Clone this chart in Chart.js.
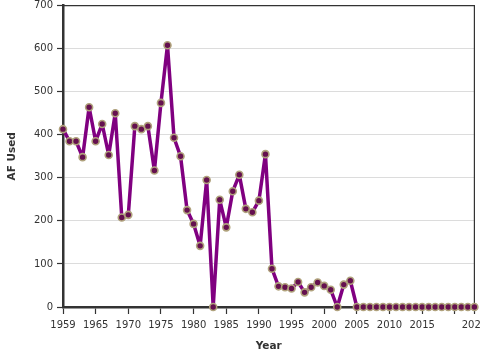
<!DOCTYPE html>
<html>
<head>
<meta charset="utf-8">
<script src="https://cdn.jsdelivr.net/npm/chart.js@4/dist/chart.umd.min.js"></script>
<style>
  html, body { margin: 0; padding: 0; background: #ffffff; }
  #wrap { width: 480px; height: 360px; position: relative; }
</style>
</head>
<body>
<div id="wrap"><canvas id="c" width="480" height="360"></canvas></div>
<script>
const years = [];
for (let y = 1960; y <= 2023; y++) years.push(y);
const afUsed = [
  413, 385, 385, 348, 464, 385, 425, 353, 450, 208,
  214, 420, 413, 420, 317, 474, 608, 393, 350, 225,
  193, 142, 295, 0, 249, 185, 269, 307, 228, 220,
  247, 355, 89, 48, 46, 43, 58, 34, 46, 57,
  49, 40, 0, 52, 61, 0, 0, 0, 0, 0,
  0, 0, 0, 0, 0, 0, 0, 0, 0, 0,
  0, 0, 0, 0
];
const tickYears = [1960, 1965, 1970, 1975, 1980, 1985, 1990, 1995, 2000, 2005, 2010, 2015, 2020, 2023];
const tickLabels = ['1959', '1965', '1970', '1975', '1980', '1985', '1990', '1995', '2000', '2005', '2010', '2015', '', '2022'];
const yTicks = [0, 100, 200, 300, 400, 500, 600, 700];

const frame = {
  id: 'frame',
  beforeDatasetsDraw(chart) {
    const a = chart.chartArea, ctx = chart.ctx;
    ctx.save();
    ctx.strokeStyle = '#333';
    ctx.lineWidth = 1.2;
    ctx.beginPath();
    ctx.moveTo(a.left, a.top);
    ctx.lineTo(a.right, a.top);
    ctx.lineTo(a.right, a.bottom);
    ctx.stroke();
    ctx.restore();
  }
};

new Chart(document.getElementById('c'), {
  type: 'line',
  data: {
    datasets: [{
      data: years.map((y, i) => ({ x: y, y: afUsed[i] })),
      borderColor: '#800080',
      borderWidth: 3.5,
      borderJoinStyle: 'round',
      borderCapStyle: 'round',
      tension: 0,
      pointRadius: 3.5,
      pointBackgroundColor: '#65104f',
      pointBorderColor: '#b0a27c',
      pointBorderWidth: 1.6,
      clip: false
    }]
  },
  options: {
    responsive: false,
    animation: false,
    events: [],
    layout: { padding: { top: 4, right: 4, left: 0, bottom: 0 } },
    plugins: { legend: { display: false }, tooltip: { enabled: false } },
    scales: {
      x: {
        type: 'linear',
        min: 1960,
        max: 2023,
        afterBuildTicks(scale) { scale.ticks = tickYears.map(v => ({ value: v })); },
        afterFit(scale) { scale.height = 53; scale.paddingLeft = 0; scale.paddingRight = 0; },
        ticks: {
          autoSkip: false,
          maxRotation: 0,
          color: '#333',
          padding: 5,
          font: { family: 'DejaVu Sans', size: 10 },
          callback(v) { const i = tickYears.indexOf(v); return i >= 0 ? tickLabels[i] : ''; }
        },
        grid: { drawOnChartArea: false, color: 'transparent', tickColor: '#333', tickLength: 7, tickWidth: 1.2 },
        border: { display: true, color: '#333', width: 2.5 },
        title: {
          display: true, text: 'Year', color: '#333',
          font: { family: 'DejaVu Sans', size: 10.5, weight: 'bold' },
          padding: { top: 0, bottom: 7 }
        }
      },
      y: {
        min: 0,
        max: 700,
        afterBuildTicks(scale) { scale.ticks = yTicks.map(v => ({ value: v })); },
        afterFit(scale) { scale.width = 63; scale.paddingTop = 0; scale.paddingBottom = 0; },
        ticks: {
          color: '#333',
          padding: 4,
          font: { family: 'DejaVu Sans', size: 10 }
        },
        grid: { color: '#dcdcdc', lineWidth: 1, tickColor: '#333', tickLength: 6, tickWidth: 1.2 },
        border: { display: true, color: '#333', width: 2.5 },
        title: {
          display: true, text: 'AF Used', color: '#333',
          font: { family: 'DejaVu Sans', size: 10.5, weight: 'bold' },
          padding: { top: 6, bottom: 0 }
        }
      }
    }
  },
  plugins: [frame]
});
</script>
</body>
</html>
